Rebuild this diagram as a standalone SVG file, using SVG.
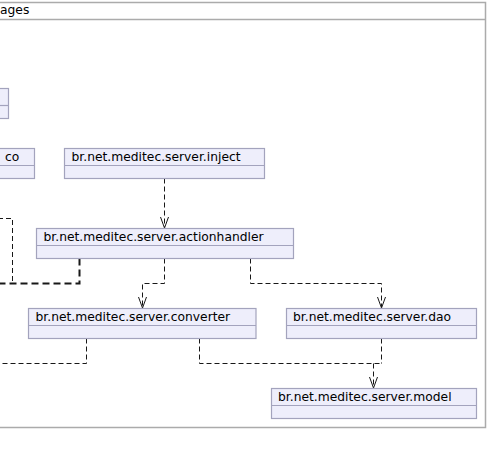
<svg xmlns="http://www.w3.org/2000/svg" width="488" height="465" viewBox="0 0 488 465">
<defs>
<style>
.frame{fill:none;stroke:#ABABAB;stroke-width:1.5}
.box{fill:#EEEEFB;stroke:#A3A3BD;stroke-width:1.2}
.t{font-family:"DejaVu Sans",Verdana,sans-serif;font-size:12.3px;fill:#000}
.c{fill:none;stroke:#181818;stroke-width:1;stroke-dasharray:5,3}
.cb{fill:none;stroke:#181818;stroke-width:2;stroke-dasharray:7,4}
.ah{fill:none;stroke:#181818;stroke-width:1}
</style>
</defs>
<rect width="488" height="465" fill="#FFFFFF"/>
<g id="frame">
<path class="frame" d="M-2,2.5 H485.5 V427.5 H-2 M-2,19.5 H485.5"/>
<text class="t" x="0" y="14">ages</text>
</g>
<g id="connectors">
<path class="c" d="M164.5,178.5 V227"/>
<path class="ah" d="M160.5,217 L164.5,228 L168.5,217"/>
<path class="c" d="M164.5,258.5 V283.5 H142.5 V307"/>
<path class="ah" d="M138.5,297 L142.5,308 L146.5,297"/>
<path class="c" d="M250.5,258.5 V283.5 H381.5 V307"/>
<path class="ah" d="M377.5,297 L381.5,308 L385.5,297"/>
<path class="cb" d="M79.5,258.5 V283.5 H-2"/>
<path class="c" d="M-2,218.5 H12.5 V283.5"/>
<path class="c" d="M86.5,338.5 V363.5 H-2"/>
<path class="c" d="M199.5,338.5 V363.5 H381.5"/>
<path class="c" d="M381.5,338.5 V363.5"/>
<path class="c" d="M373.5,363.5 V387"/>
<path class="ah" d="M369.5,377 L373.5,388 L377.5,377"/>
</g>
<g id="node-left-top">
<rect class="box" x="-10" y="88.5" width="18.5" height="30"/>
<line class="box" x1="-10" y1="105.5" x2="8.5" y2="105.5"/>
</g>
<g id="node-co">
<rect class="box" x="-10" y="148.5" width="44.5" height="30"/>
<line class="box" x1="-10" y1="165.5" x2="34.5" y2="165.5"/>
<text class="t" x="5" y="161">co</text>
</g>
<g id="node-inject">
<rect class="box" x="64.5" y="148.5" width="200" height="30"/>
<line class="box" x1="64.5" y1="165.5" x2="264.5" y2="165.5"/>
<text class="t" x="71.5" y="161">br.net.meditec.server.inject</text>
</g>
<g id="node-actionhandler">
<rect class="box" x="36.5" y="228.5" width="257" height="30"/>
<line class="box" x1="36.5" y1="245.5" x2="293.5" y2="245.5"/>
<text class="t" x="43.5" y="241">br.net.meditec.server.actionhandler</text>
</g>
<g id="node-converter">
<rect class="box" x="28.5" y="308.5" width="227.5" height="30"/>
<line class="box" x1="28.5" y1="325.5" x2="256" y2="325.5"/>
<text class="t" x="35.5" y="321">br.net.meditec.server.converter</text>
</g>
<g id="node-dao">
<rect class="box" x="286.5" y="308.5" width="190" height="30"/>
<line class="box" x1="286.5" y1="325.5" x2="476.5" y2="325.5"/>
<text class="t" x="293" y="321">br.net.meditec.server.dao</text>
</g>
<g id="node-model">
<rect class="box" x="271.5" y="388.5" width="205" height="30"/>
<line class="box" x1="271.5" y1="405.5" x2="476.5" y2="405.5"/>
<text class="t" x="278" y="401">br.net.meditec.server.model</text>
</g>
</svg>
